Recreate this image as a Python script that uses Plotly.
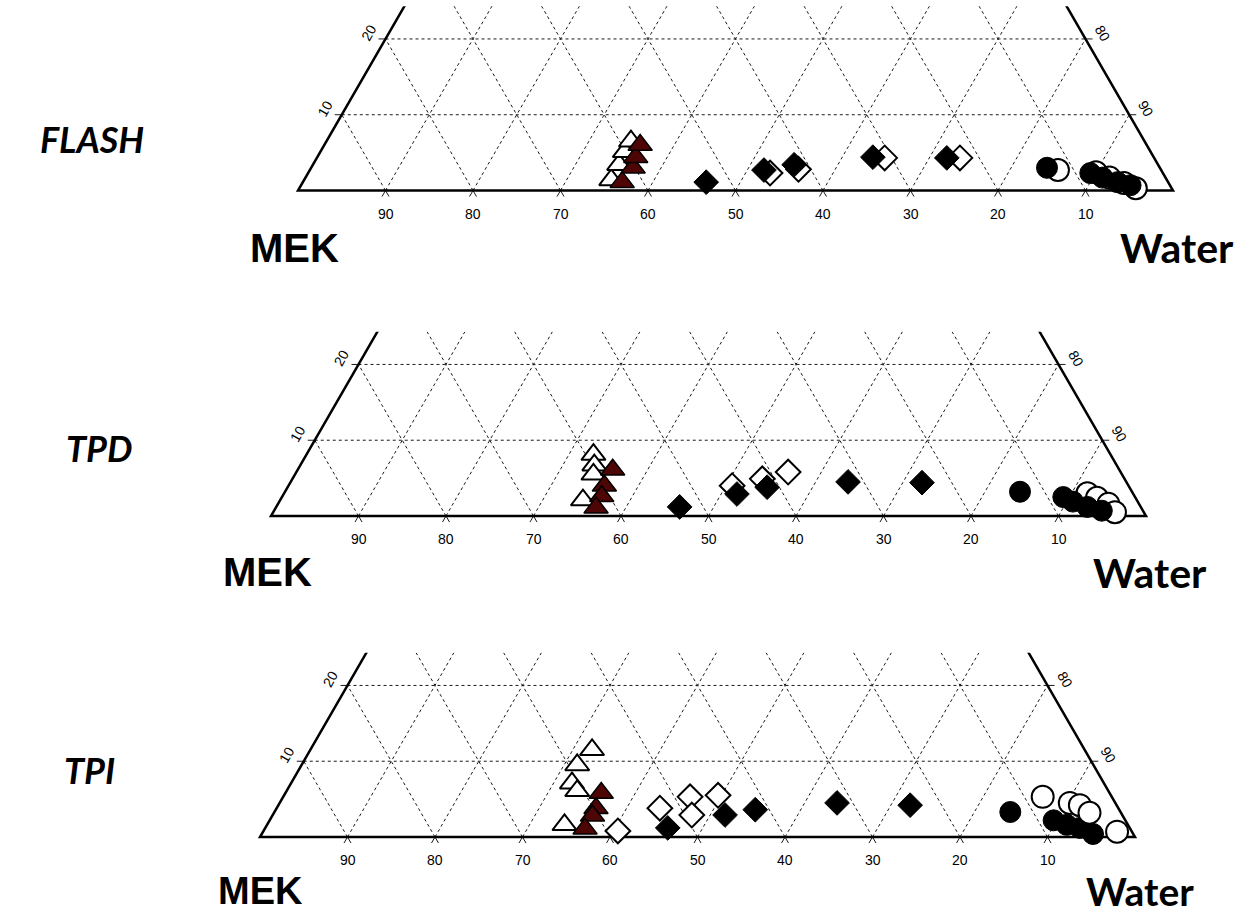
import numpy as np
import plotly.graph_objects as go

W, H = 1251, 913
SIN60 = np.sqrt(3) / 2

# ---- compositions (wt %): MEK and the third component; water is the balance ----
# FLASH
flash_open_tri_mek = [63.5, 61.6, 60.1, 58.7]
flash_open_tri_sol = [1.4, 3.4, 5.1, 6.5]
flash_red_tri_mek = [62.4, 60.2, 59.2, 57.9]
flash_red_tri_sol = [1.1, 3.0, 4.4, 6.0]
flash_open_dia_mek = [44.9, 41.4, 30.8, 22.2]
flash_open_dia_sol = [2.3, 2.8, 4.3, 4.3]
flash_fill_dia_mek = [52.8, 45.4, 41.6, 32.1, 23.7]
flash_fill_dia_sol = [1.1, 2.7, 3.4, 4.4, 4.3]
flash_open_cir_mek = [11.8, 7.6, 6.4, 5.1, 4.1]
flash_open_cir_sol = [2.7, 2.4, 1.7, 1.0, 0.3]
flash_fill_cir_mek = [12.9, 8.3, 7.2, 5.8, 4.5]
flash_fill_cir_sol = [3.0, 2.3, 1.7, 1.1, 0.7]

# TPD
tpd_open_tri_mek = [59.1, 59.7, 60.4, 63.3]
tpd_open_tri_sol = [8.1, 6.7, 5.5, 2.1]
tpd_red_tri_mek = [57.9, 59.9, 60.9, 62.3]
tpd_red_tri_sol = [6.1, 4.0, 2.6, 1.1]
tpd_open_dia_mek = [45.3, 41.4, 38.0]
tpd_open_dia_sol = [4.0, 4.9, 5.8]
tpd_fill_dia_mek = [52.7, 45.3, 41.4, 31.8, 23.4]
tpd_fill_dia_sol = [1.2, 2.9, 3.8, 4.5, 4.4]
tpd_open_cir_mek = [5.2, 4.4, 3.5, 3.3]
tpd_open_cir_sol = [3.0, 2.4, 1.6, 0.5]
tpd_fill_cir_mek = [12.8, 8.2, 7.4, 6.1, 4.7]
tpd_fill_cir_sol = [3.2, 2.5, 1.9, 1.2, 0.7]

# TPI
tpi_open_tri_mek = [56.3, 59.0, 60.8, 60.7, 64.4]
tpi_open_tri_sol = [11.5, 9.5, 7.1, 6.1, 1.6]
tpi_red_tri_mek = [58.1, 59.7, 60.6, 62.3]
tpi_red_tri_sol = [5.8, 3.8, 2.8, 1.1]
tpi_open_dia_mek = [58.7, 52.4, 48.2, 49.2, 44.9]
tpi_open_dia_sol = [0.8, 3.8, 5.3, 2.9, 5.5]
tpi_fill_dia_mek = [52.8, 45.4, 41.6, 31.8, 23.6]
tpi_fill_dia_sol = [1.2, 2.9, 3.6, 4.5, 4.2]
tpi_open_cir_mek = [7.9, 5.2, 4.2, 3.6, 1.7]
tpi_open_cir_sol = [5.3, 4.5, 4.2, 3.2, 0.7]
tpi_fill_cir_mek = [12.6, 8.2, 7.0, 5.7, 4.6]
tpi_fill_cir_sol = [3.3, 2.2, 1.6, 1.2, 0.4]

panel_names = ["FLASH", "TPD", "TPI"]
base_ticks = [90, 80, 70, 60, 50, 40, 30, 20, 10]
side_ticks = [10, 20]

panel_data = [
    dict(open_tri=(flash_open_tri_mek, flash_open_tri_sol), red_tri=(flash_red_tri_mek, flash_red_tri_sol),
         open_dia=(flash_open_dia_mek, flash_open_dia_sol), fill_dia=(flash_fill_dia_mek, flash_fill_dia_sol),
         open_cir=(flash_open_cir_mek, flash_open_cir_sol), fill_cir=(flash_fill_cir_mek, flash_fill_cir_sol)),
    dict(open_tri=(tpd_open_tri_mek, tpd_open_tri_sol), red_tri=(tpd_red_tri_mek, tpd_red_tri_sol),
         open_dia=(tpd_open_dia_mek, tpd_open_dia_sol), fill_dia=(tpd_fill_dia_mek, tpd_fill_dia_sol),
         open_cir=(tpd_open_cir_mek, tpd_open_cir_sol), fill_cir=(tpd_fill_cir_mek, tpd_fill_cir_sol)),
    dict(open_tri=(tpi_open_tri_mek, tpi_open_tri_sol), red_tri=(tpi_red_tri_mek, tpi_red_tri_sol),
         open_dia=(tpi_open_dia_mek, tpi_open_dia_sol), fill_dia=(tpi_fill_dia_mek, tpi_fill_dia_sol),
         open_cir=(tpi_open_cir_mek, tpi_open_cir_sol), fill_cir=(tpi_fill_cir_mek, tpi_fill_cir_sol)),
]

# ---- page layout (pixels) ----
SCALE = 8.75                     # px per composition unit along the base
T_TOP = 24.3                     # diagram is cut off above this third-component level
corner_left = [298, 271, 260]    # pixel x of the MEK corner
base_px = [190.5, 516, 837]      # pixel y of the base line
name_pos = [(92, 139), (99, 448), (89, 770)]
mek_pos = [(294, 248), (267, 572), (260, 891)]
water_pos = [(1177, 248), (1150, 572), (1140, 891)]
corner_font = [40, 40, 38]
open_on_top = [False, False, True]

MARKERS = {
    "open_tri": dict(symbol="triangle-up", size=21, color="white", line=dict(color="black", width=2)),
    "red_tri": dict(symbol="triangle-up", size=21, color="#4d0505", line=dict(color="black", width=1.5)),
    "open_dia": dict(symbol="diamond", size=19, color="white", line=dict(color="black", width=2)),
    "fill_dia": dict(symbol="diamond", size=19, color="black", line=dict(color="black", width=1)),
    "open_cir": dict(symbol="circle", size=22, color="white", line=dict(color="black", width=2)),
    "fill_cir": dict(symbol="circle", size=21, color="black", line=dict(color="black", width=1)),
}


def to_xy(mek, sol):
    mek = np.asarray(mek, float)
    sol = np.asarray(sol, float)
    return 100 - mek - sol / 2, sol * SIN60


fig = go.Figure()
annotations = []
layout_axes = {}
tick_font = dict(family="Liberation Sans", size=14, color="black")

for i in range(3):
    sfx = "" if i == 0 else str(i + 1)
    xa, ya = "x" + sfx, "y" + sfx
    L, B = corner_left[i], base_px[i]
    top_px = B - T_TOP * SIN60 * SCALE
    bot_px = min(B + 85, H)
    layout_axes["xaxis" + sfx] = dict(domain=[0, 1], range=[-L / SCALE, (W - L) / SCALE],
                                      visible=False, fixedrange=True)
    layout_axes["yaxis" + sfx] = dict(domain=[1 - bot_px / H, 1 - top_px / H],
                                      range=[-(bot_px - B) / SCALE, (B - top_px) / SCALE],
                                      visible=False, fixedrange=True)

    tmax = 40
    # dashed grid: constant-MEK and constant-water lines from each base tick
    gx, gy = [], []
    for k in base_ticks:
        tt = min(100 - k, tmax)
        for (x0, y0), (x1, y1) in [
            (to_xy(k, 0), to_xy(k, tt)),
            (to_xy(100 - k, 0), to_xy(100 - k - tt, tt)),
        ]:
            gx += [float(x0), float(x1), None]
            gy += [float(y0), float(y1), None]
    # horizontal grid lines at constant third component
    for t in side_ticks:
        xl, yl = to_xy(100 - t, t)
        xr, yr = to_xy(0, t)
        gx += [float(xl), float(xr), None]
        gy += [float(yl), float(yr), None]
    fig.add_trace(go.Scatter(x=gx, y=gy, mode="lines", xaxis=xa, yaxis=ya, hoverinfo="skip",
                             line=dict(color="#1a1a1a", width=1, dash="3px,3px"), showlegend=False))

    # small solid tick marks outside the frame
    tk = 0.8
    tx, ty = [], []
    for k in base_ticks:
        x0, _ = to_xy(k, 0)
        tx += [float(x0) - tk / 2, float(x0), float(x0) + tk / 2, None]
        ty += [-tk * SIN60, 0, -tk * SIN60, None]
    for t in side_ticks:
        xl, yl = to_xy(100 - t, t)
        xr, yr = to_xy(0, t)
        tx += [float(xl) - tk, float(xl), None, float(xr), float(xr) + tk, None]
        ty += [float(yl), float(yl), None, float(yr), float(yr), None]
    fig.add_trace(go.Scatter(x=tx, y=ty, mode="lines", xaxis=xa, yaxis=ya, hoverinfo="skip",
                             line=dict(color="#1a1a1a", width=1), showlegend=False))

    # frame: two sides and the base
    xm, ym = to_xy(100, 0)
    xw, yw = to_xy(0, 0)
    xlt, ylt = to_xy(100 - tmax, tmax)
    xrt, yrt = to_xy(0, tmax)
    fig.add_trace(go.Scatter(x=[float(xlt), float(xm), float(xw), float(xrt)],
                             y=[float(ylt), float(ym), float(yw), float(yrt)],
                             mode="lines", xaxis=xa, yaxis=ya, hoverinfo="skip",
                             line=dict(color="black", width=2.5), showlegend=False))

    # data points
    order = ["open_tri", "red_tri", "open_dia", "fill_dia"]
    order += ["fill_cir", "open_cir"] if open_on_top[i] else ["open_cir", "fill_cir"]
    for key in order:
        mek, sol = panel_data[i][key]
        x, y = to_xy(mek, sol)
        fig.add_trace(go.Scatter(x=x, y=y, mode="markers", xaxis=xa, yaxis=ya,
                                 marker=MARKERS[key], showlegend=False, name=key))

    # base tick labels
    for k in base_ticks:
        x0, _ = to_xy(k, 0)
        annotations.append(dict(x=float(x0), y=0, xref=xa, yref=ya, text=str(k), showarrow=False,
                                yshift=-23, font=tick_font))
    # side tick labels
    for t in side_ticks:
        xl, yl = to_xy(100 - t, t)
        xr, yr = to_xy(0, t)
        annotations.append(dict(x=float(xl), y=float(yl), xref=xa, yref=ya, text=str(t), showarrow=False,
                                xshift=-17, yshift=6, textangle=-60, font=tick_font))
        annotations.append(dict(x=float(xr), y=float(yr), xref=xa, yref=ya, text=str(100 - t),
                                showarrow=False, xshift=17, yshift=6, textangle=60, font=tick_font))

    # corner and panel labels
    px, py = mek_pos[i]
    annotations.append(dict(x=px / W, y=1 - py / H, xref="paper", yref="paper", text="<b>MEK</b>",
                            showarrow=False, xanchor="center", yanchor="middle",
                            font=dict(family="Liberation Sans", size=corner_font[i], color="black")))
    px, py = water_pos[i]
    annotations.append(dict(x=px / W, y=1 - py / H, xref="paper", yref="paper", text="<b>Water</b>",
                            showarrow=False, xanchor="center", yanchor="middle",
                            font=dict(family="Lato", size=corner_font[i] + 1, color="black")))
    px, py = name_pos[i]
    annotations.append(dict(x=px / W, y=1 - py / H, xref="paper", yref="paper",
                            text="<b><i>" + panel_names[i] + "</i></b>",
                            showarrow=False, xanchor="center", yanchor="middle",
                            font=dict(family="Lato", size=36, color="black")))

fig.update_layout(width=W, height=H, margin=dict(l=0, r=0, t=0, b=0),
                  paper_bgcolor="white", plot_bgcolor="white",
                  annotations=annotations, **layout_axes)

fig.write_html("out.html")
